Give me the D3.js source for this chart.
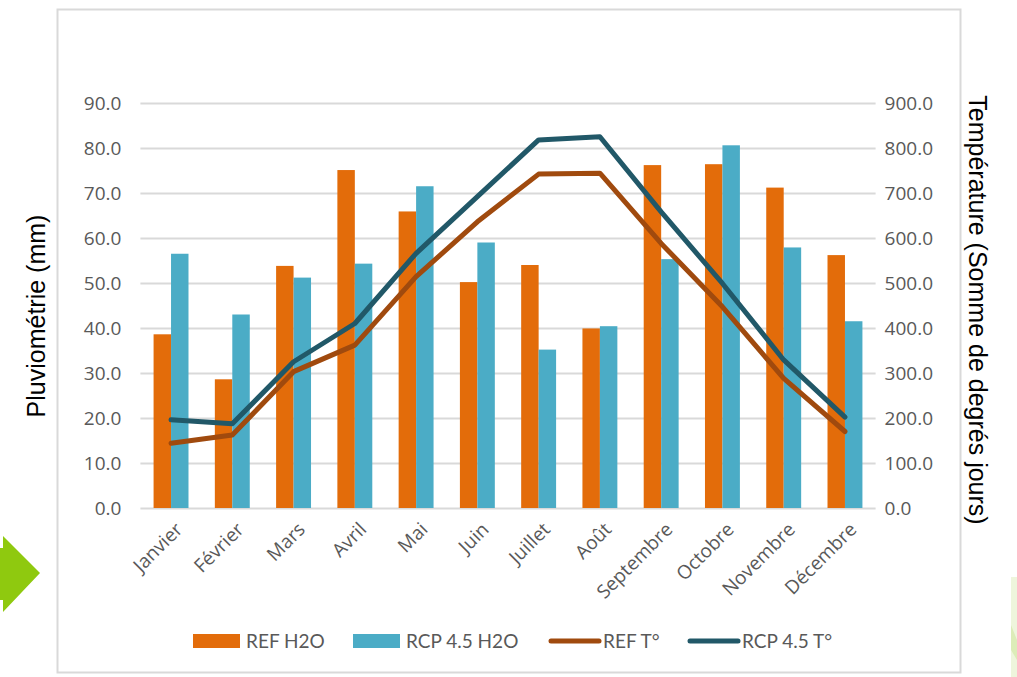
<!DOCTYPE html>
<html>
<head>
<meta charset="utf-8">
<script src="https://cdn.jsdelivr.net/npm/d3@7"></script>
<style>
  body { margin: 0; background: #fff; }
  svg { display: block; }
</style>
</head>
<body>
<script>
// data
var months = ["Janvier", "Février", "Mars", "Avril", "Mai", "Juin", "Juillet", "Août", "Septembre", "Octobre", "Novembre", "Décembre"];
var refH2O = [38.6, 28.6, 53.8, 75.1, 65.9, 50.2, 54.0, 39.9, 76.2, 76.4, 71.2, 56.2];
var rcpH2O = [56.5, 43.0, 51.2, 54.3, 71.5, 59.0, 35.2, 40.4, 55.3, 80.6, 57.9, 41.5];
var refT = [144, 162, 303, 362, 514, 636, 742, 744, 588, 447, 288, 170];
var rcpT = [196, 187, 325, 410, 566, 692, 818, 825, 658, 499, 329, 202];
var leftTicks = [0, 10, 20, 30, 40, 50, 60, 70, 80, 90];
var rightTicks = [0, 100, 200, 300, 400, 500, 600, 700, 800, 900];

var width = 1017,
    height = 677;

var plot = {left: 140.4, right: 875.6, top: 103, bottom: 508};

var svg = d3.select("body").append("svg")
    .attr("width", width)
    .attr("height", height);

// frame round the chart
svg.append("rect")
    .attr("x", 57.5).attr("y", 9.5)
    .attr("width", 903).attr("height", 663)
    .attr("fill", "#fff")
    .attr("stroke", "#d9d9d9")
    .attr("stroke-width", 2);

// green arrow on the left, pale shape on the right
svg.append("polygon")
    .attr("points", "0,548 3,548 3,536 40,573 3,612 3,600 0,600")
    .attr("fill", "#8fc90f");
svg.append("polygon")
    .attr("points", "1011,577 1017,577 1017,677 1011,677")
    .attr("fill", "#eef5dc");
svg.append("polygon")
    .attr("points", "1011,625 1017,640 1017,660 1011,650")
    .attr("fill", "#dcecb8");

var x0 = d3.scaleBand()
    .domain(months)
    .range([plot.left, plot.right])
    .paddingInner(0.43)
    .paddingOuter(0.215);

var x1 = d3.scaleBand()
    .domain(["ref", "rcp"])
    .range([0, x0.bandwidth()]);

var yL = d3.scaleLinear().domain([0, 90]).range([plot.bottom, plot.top]);
var yR = d3.scaleLinear().domain([0, 900]).range([plot.bottom, plot.top]);

var fmt = d3.format(".1f");

// gridlines + left axis
var gl = svg.append("g")
    .attr("transform", "translate(" + plot.left + ",0)")
    .call(d3.axisLeft(yL).tickValues(leftTicks).tickFormat(fmt)
        .tickSize(-(plot.right - plot.left)).tickPadding(19));
gl.select(".domain").remove();
gl.selectAll(".tick line").attr("stroke", "#d9d9d9").attr("stroke-width", 2);
gl.selectAll(".tick text")
    .attr("fill", "#595959")
    .style("font-family", "'Open Sans', sans-serif")
    .style("font-size", "19px");

var gr = svg.append("g")
    .attr("transform", "translate(" + plot.right + ",0)")
    .call(d3.axisRight(yR).tickValues(rightTicks).tickFormat(fmt)
        .tickSize(0).tickPadding(9));
gr.select(".domain").remove();
gr.selectAll(".tick text")
    .attr("fill", "#595959")
    .style("font-family", "'Open Sans', sans-serif")
    .style("font-size", "19px");

// bars
var groups = svg.append("g").selectAll("g")
    .data(months)
    .enter().append("g")
    .attr("transform", function(d) { return "translate(" + x0(d) + ",0)"; });

groups.append("rect")
    .attr("x", x1("ref"))
    .attr("width", x1.bandwidth())
    .attr("y", function(d, i) { return yL(refH2O[i]); })
    .attr("height", function(d, i) { return yL(0) - yL(refH2O[i]); })
    .attr("fill", "#e36c0a");

groups.append("rect")
    .attr("x", x1("rcp"))
    .attr("width", x1.bandwidth())
    .attr("y", function(d, i) { return yL(rcpH2O[i]); })
    .attr("height", function(d, i) { return yL(0) - yL(rcpH2O[i]); })
    .attr("fill", "#4bacc6");

// temperature lines
var cx = function(d, i) { return x0(months[i]) + x0.bandwidth() / 2; };
var line = d3.line()
    .x(cx)
    .y(function(d) { return yR(d); });

svg.append("path")
    .datum(refT)
    .attr("d", line)
    .attr("fill", "none")
    .attr("stroke", "#a04a0e")
    .attr("stroke-width", 5)
    .attr("stroke-linejoin", "round")
    .attr("stroke-linecap", "round");

svg.append("path")
    .datum(rcpT)
    .attr("d", line)
    .attr("fill", "none")
    .attr("stroke", "#215868")
    .attr("stroke-width", 5)
    .attr("stroke-linejoin", "round")
    .attr("stroke-linecap", "round");

// month labels
svg.append("g").selectAll("text")
    .data(months)
    .enter().append("text")
    .attr("transform", function(d) {
        return "translate(" + (x0(d) + x0.bandwidth() / 2 + 8) + "," + 526 + ") rotate(-45)";
    })
    .attr("text-anchor", "end")
    .attr("dy", "0.35em")
    .attr("fill", "#595959")
    .style("font-family", "'Open Sans', sans-serif")
    .style("font-size", "19px")
    .text(function(d) { return d; });

// axis titles
svg.append("text")
    .attr("transform", "translate(45,316) rotate(-90)")
    .attr("text-anchor", "middle")
    .style("font-family", "'Liberation Sans', Arial, sans-serif")
    .style("font-size", "25px")
    .attr("fill", "#000")
    .text("Pluviométrie (mm)");

svg.append("text")
    .attr("transform", "translate(969,310) rotate(90)")
    .attr("text-anchor", "middle")
    .style("font-family", "'Liberation Sans', Arial, sans-serif")
    .style("font-size", "25px")
    .attr("fill", "#000")
    .text("Température (Somme de degrés jours)");

// legend
var legendItems = [
    {name: "REF H2O", kind: "bar", color: "#e36c0a", x: 193},
    {name: "RCP 4.5 H2O", kind: "bar", color: "#4bacc6", x: 353},
    {name: "REF T°", kind: "line", color: "#a04a0e", x: 549},
    {name: "RCP 4.5 T°", kind: "line", color: "#215868", x: 688}
];
var lg = svg.append("g").selectAll("g")
    .data(legendItems)
    .enter().append("g")
    .attr("transform", function(d) { return "translate(" + d.x + ",641)"; });

lg.filter(function(d) { return d.kind == "bar"; })
    .append("rect")
    .attr("x", 0).attr("y", -7)
    .attr("width", 47).attr("height", 14)
    .attr("fill", function(d) { return d.color; });

lg.filter(function(d) { return d.kind == "line"; })
    .append("line")
    .attr("x1", 2).attr("x2", 50)
    .attr("stroke", function(d) { return d.color; })
    .attr("stroke-width", 5)
    .attr("stroke-linecap", "round");

lg.append("text")
    .attr("x", function(d) { return d.kind == "bar" ? 53 : 54; })
    .attr("dy", "0.35em")
    .attr("fill", "#595959")
    .style("font-family", "Lato, sans-serif")
    .style("font-size", "19px")
    .text(function(d) { return d.name; });
</script>
</body>
</html>
